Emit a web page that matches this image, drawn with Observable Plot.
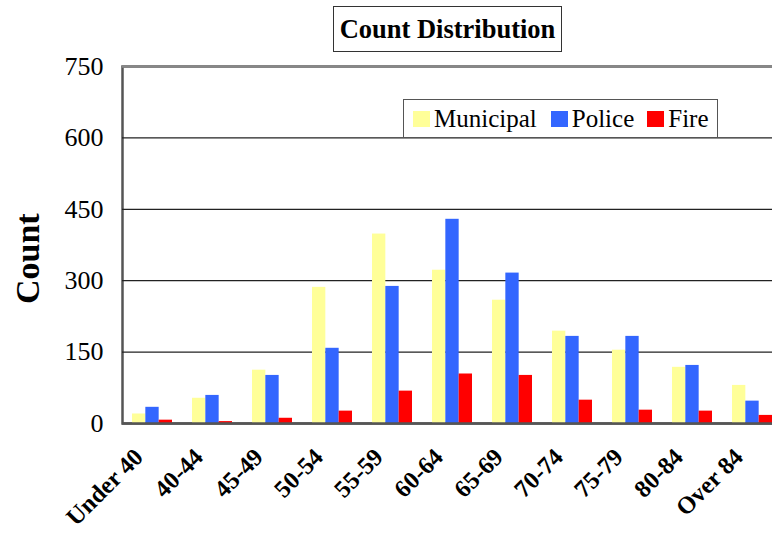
<!DOCTYPE html>
<html><head><meta charset="utf-8">
<script src="https://cdn.jsdelivr.net/npm/d3@7"></script>
<script src="https://cdn.jsdelivr.net/npm/@observablehq/plot@0.6"></script>
<style>
body{margin:0;background:#fff;}
#wrap{position:relative;width:772px;height:533px;font-family:'Liberation Serif','Times New Roman',serif;overflow:hidden;}
#title{position:absolute;left:333px;top:6px;width:229px;height:46px;border:1.5px solid #333;box-sizing:border-box;background:#fff;
 font-weight:bold;font-size:26.5px;display:flex;align-items:center;justify-content:center;color:#000;}
#legend{position:absolute;left:403px;top:99px;width:315px;height:39px;border:1.5px solid #555;box-sizing:border-box;background:#fff;
 font-size:25px;display:flex;align-items:center;color:#000;}
#legend .item{display:flex;align-items:center;}
#legend .sw{width:17px;height:16px;display:inline-block;margin-right:4px;}
svg{position:absolute;left:0;top:0;}
</style></head>
<body><div id="wrap"></div>
<script>
const categories = ["Under 40","40-44","45-49","50-54","55-59","60-64","65-69","70-74","75-79","80-84","Over 84"];
const seriesNames = ["Municipal","Police","Fire"];
const municipal = [20,53,112,286,398,322,259,194,154,118,80];
const police    = [34,59,101,158,288,429,316,183,183,122,47];
const fire      = [7,4,11,26,68,104,101,49,28,26,17];
const colors = ["#FFFF99","#3366FF","#FF0000"];
const yTicks = [0,150,300,450,600,750];

const serif = "'Liberation Serif','Times New Roman',serif";
const seriesValues = [municipal, police, fire];
const rows = [];
seriesNames.forEach((s, si) => categories.forEach((c, ci) => rows.push({category: c, series: s, value: seriesValues[si][ci]})));

const W = 772, H = 533, mL = 122, mR = -10, mT = 66, mB = 110;
const band = (W - mL - mR) / categories.length;
const barW = band * 2 / 9;
const pad = (band - 3 * barW) / 2;

const barMarks = seriesNames.map((s, i) => Plot.barY(rows.filter(d => d.series === s), {
  x: "category", y: "value", fill: colors[i],
  insetLeft: pad + i * barW, insetRight: band - pad - (i + 1) * barW
}));

const chart = Plot.plot({
  width: W, height: H, marginLeft: mL, marginRight: mR, marginTop: mT, marginBottom: mB,
  style: {fontFamily: serif, background: "transparent", color: "#000"},
  x: {domain: categories, padding: 0, label: null, axis: null},
  y: {domain: [0, 750], label: null, axis: null},
  marks: [
    Plot.frame({stroke: "#555", strokeWidth: 2.5}),
    Plot.ruleY(yTicks.slice(1, -1), {stroke: "#222", strokeWidth: 1.2}),
    Plot.ruleY([750], {stroke: "#888", strokeWidth: 2.5}),
    ...barMarks,
    Plot.ruleY([0], {stroke: "#555", strokeWidth: 2.5}),
    Plot.text(yTicks, {y: d => d, frameAnchor: "left", dx: -19, textAnchor: "end", fontSize: 26, fontFamily: serif, fill: "#000"}),
    Plot.text(categories, {x: d => d, frameAnchor: "bottom", dx: -8, dy: 35, rotate: -45, textAnchor: "end", lineAnchor: "bottom",
      fontSize: 24.5, fontWeight: "bold", fontFamily: serif, fill: "#000"}),
    Plot.text(["Count"], {frameAnchor: "left", rotate: -90, dx: -94, dy: 59, fontSize: 34, fontWeight: "bold", fontFamily: serif, fill: "#000"})
  ]
});

const wrap = document.getElementById("wrap");
wrap.appendChild(chart);
const title = document.createElement("div");
title.id = "title"; title.textContent = "Count Distribution";
wrap.appendChild(title);
const legend = document.createElement("div");
legend.id = "legend";
const gaps = [9, 14, 13];
seriesNames.forEach((s, i) => {
  const it = document.createElement("span"); it.className = "item"; it.style.marginLeft = gaps[i] + "px";
  const sw = document.createElement("span"); sw.className = "sw"; sw.style.background = colors[i];
  it.appendChild(sw); it.appendChild(document.createTextNode(s));
  legend.appendChild(it);
});
wrap.appendChild(legend);
</script></body></html>
